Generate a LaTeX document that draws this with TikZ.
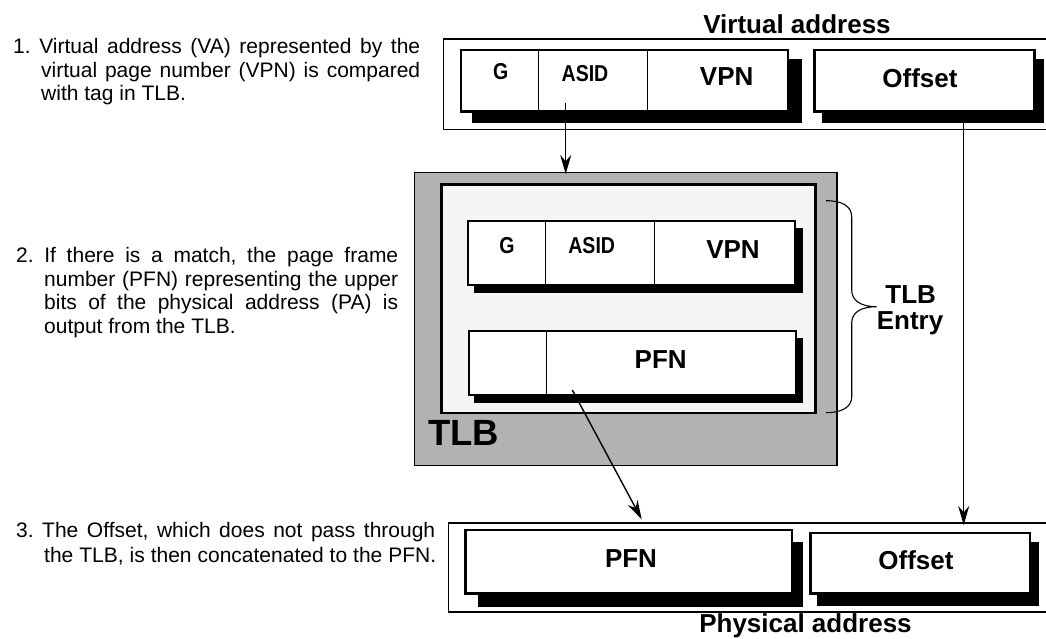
\documentclass[tikz,border=0pt]{standalone}
\usepackage{fontspec}
\setmainfont{Liberation Sans}
\newfontfamily\condfont[FakeStretch=0.85]{Liberation Sans}
\newcommand{\fs}[1]{\fontsize{#1}{#1}\selectfont}
\newcommand{\jl}[2]{\makebox[#1pt][s]{\frenchspacing #2}}
\usetikzlibrary{arrows.meta}
\tikzset{
  x=1pt,y=-1pt,
  frame/.style={draw=black,line width=1.3pt,fill=white},
  cell/.style={draw=black,line width=2.5pt,fill=white},
  entrycell/.style={draw=black,line width=2pt,fill=white},
  shade/.style={fill=black,draw=none},
  divider/.style={line width=1pt},
  tlbouter/.style={draw=black,line width=1.3pt,fill=black!30},
  tlbinner/.style={draw=black,line width=2.5pt,fill=black!4},
  big/.style={font=\fs{26}\bfseries,inner sep=0pt},
  cond/.style={font=\condfont\fs{23}\bfseries,inner sep=0pt},
  body/.style={font=\fs{21},inner sep=0pt,anchor=base west},
  link/.style={line width=1.4pt,-{Stealth[length=19pt,width=11pt]}},
  brace/.style={line width=1.1pt}
}
\begin{document}
\begin{tikzpicture}
\useasboundingbox (0,0) rectangle (1046,638);
% text
\node[body] (t1a) at (13,53) {\jl{407}{1. Virtual address (VA) represented by the}};
\node[body] (t1b) at (41,77) {\jl{379}{virtual page number (VPN) is compared}};
\node[body] (t1c) at (41,100.5) {with tag in TLB.};
\node[body] (t2a) at (16,262) {\jl{382}{2. If there is a match, the page frame}};
\node[body] (t2b) at (44,286) {\jl{354}{number (PFN) representing the upper}};
\node[body] (t2c) at (44,309.5) {\jl{354}{bits of the physical address (PA) is}};
\node[body] (t2d) at (44,333) {output from the TLB.};
\node[body] (t3a) at (16,537) {\jl{419}{3. The Offset, which does not pass through}};
\node[body] (t3b) at (44,562) {\jl{392}{the TLB, is then concatenated to the PFN.}};
% virtual address
\node[big] (vatitle) at (797,24) {Virtual address};
\draw[frame] (443.5,39) rectangle (1050,129.5);
\fill[shade] (472,59) rectangle (801.5,123);
\draw[cell] (461.2,50.2) rectangle (788,111.5);
\draw[divider] (538.7,50) -- (538.7,111);
\draw[divider] (647,50) -- (647,111);
\node[cond] (vag) at (500.7,72) {G};
\node[cond] (vaasid) at (585,73.5) {ASID};
\node[big] (vavpn) at (726.7,77) {VPN};
\fill[shade] (821.7,59) rectangle (1044,123);
\draw[cell] (814.7,50.2) rectangle (1034.5,111.5);
\node[big] (vaoff) at (920,78) {Offset};
% TLB
\draw[tlbouter] (414.7,172.5) rectangle (837,465.5);
\draw[tlbinner] (441.3,184.5) rectangle (815.5,413);
\fill[shade] (474,228.3) rectangle (803.3,292.7);
\draw[entrycell] (467.7,221) rectangle (794.7,285);
\draw[divider] (545,221) -- (545,285);
\draw[divider] (654,221) -- (654,285);
\node[cond] (eg) at (507,245.7) {G};
\node[cond] (easid) at (591.7,245.7) {ASID};
\node[big] (evpn) at (733,250) {VPN};
\fill[shade] (474,338.3) rectangle (803.3,402.7);
\draw[entrycell] (468.7,331) rectangle (795.7,394.7);
\draw[divider] (546,331) -- (546,394.7);
\node[big] (epfn) at (660.7,360) {PFN};
\node[font=\fs{36.5}\bfseries,inner sep=0pt] (tlbname) at (463.5,433) {TLB};
% brace
\coordinate (bt) at (826,200.7);
\coordinate (bb) at (826,412.7);
\coordinate (bm) at (876.7,306.7);
\draw[brace] (bt) .. controls (842,200.7) and (851.7,206) .. (851.7,217) -- (851.7,290)
  .. controls (851.7,300) and (860,306.7) .. (bm)
  .. controls (860,306.7) and (851.7,313) .. (851.7,323) -- (851.7,396.7)
  .. controls (851.7,407) and (842,412.7) .. (bb);
\node[big] (tlbentry) at (910.7,295) {TLB};
\node[big] (tlbentry2) at (910,323) {Entry};
% physical address
\draw[frame] (448.3,523) rectangle (1050,612);
\fill[shade] (477.7,542.3) rectangle (802.7,606.5);
\draw[cell] (465.3,530) rectangle (792,593.7);
\node[big] (papfn) at (631,559) {PFN};
\fill[shade] (817.3,541.7) rectangle (1039.3,606);
\draw[cell] (810.3,533) rectangle (1030,593.7);
\node[big] (paoff) at (916,560) {Offset};
\node[big] (patitle) at (805.5,625.3) {Physical address};
% connectors
\coordinate (a1s) at (565.7,103);
\coordinate (a1e) at (565.7,174);
\draw[link] (a1s) -- (a1e);
\coordinate (a2s) at (572.3,390);
\coordinate (a2e) at (641.7,519.3);
\draw[link] (a2s) -- (a2e);
\coordinate (a3s) at (963.7,123);
\coordinate (a3e) at (963.7,525);
\draw[link] (a3s) -- (a3e);
\end{tikzpicture}
\end{document}
